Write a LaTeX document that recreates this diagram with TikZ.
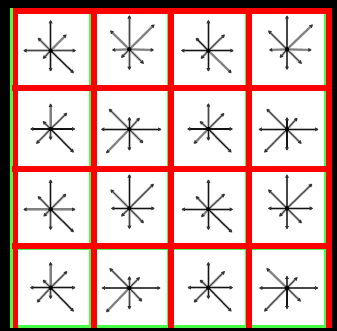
\documentclass[tikz,border=0pt]{standalone}
\usetikzlibrary{arrows.meta}
\definecolor{gridred}{RGB}{255,0,0}
\definecolor{gridgreen}{RGB}{70,255,70}
\tikzset{
  raycore/.style={line width=1.05pt,-{Triangle[length=3.4pt,width=3.6pt,black!80]},shorten >=-0.8pt},
  rayd/.style={raycore,draw=black!92},
  raym/.style={raycore,draw=black!72},
  rayl/.style={raycore,draw=black!50,line width=1.7pt},
  halo/.style={draw=black!28,line width=2.5pt},
  hub/.style={fill=black,circle,inner sep=0pt,minimum size=4.6pt},
  redbar/.style={fill=gridred,draw=none},
  greenbar/.style={fill=gridgreen,draw=none}
}
% #1,#2 offset; #3 centre; #4 list x/y/shade
\newcommand{\starburst}[4]{%
  \begin{scope}[shift={(#1,#2)},x=0.3333pt,y=-0.3333pt]
    \coordinate (hubc) at (#3);
    \foreach \ex/\ey/\sh in {#4}{\draw[halo] (hubc) -- (\ex,\ey);}
    \foreach \ex/\ey/\sh in {#4}{\draw[ray\sh] (hubc) -- (\ex,\ey);}
    \node[hub] at (hubc) {};
  \end{scope}}
\begin{document}
\begin{tikzpicture}[x=1pt,y=-1pt]
\useasboundingbox (0,0) rectangle (337,331);
\fill[black] (0,0) rectangle (337,331);
% cells
\fill[white] (12,8) rectangle (326,328);
% green edges
\fill[greenbar] (10,8) rectangle (12.8,328);
\fill[greenbar] (88.5,8) rectangle (91.5,328);
\fill[greenbar] (166.8,8) rectangle (168.5,328);
\fill[greenbar] (245,8) rectangle (246.5,328);
\fill[greenbar] (324.4,8) rectangle (326.5,328);
\fill[greenbar] (10,324.8) rectangle (326.5,328);
\fill[greenbar] (10,248) rectangle (326.5,249.6);
\fill[greenbar] (10,171) rectangle (326.5,172);
% red bars
\fill[redbar] (12.7,8) rectangle (331.7,14);
\fill[redbar] (12,85) rectangle (331.7,91);
\fill[redbar] (12,166) rectangle (331.7,171.6);
\fill[redbar] (12,243) rectangle (331.7,248.6);
\fill[redbar] (12.7,8) rectangle (18,328);
\fill[redbar] (91.3,8) rectangle (96.6,328);
\fill[redbar] (168.2,8) rectangle (173.6,328);
\fill[redbar] (246.3,8) rectangle (252,328);
\fill[redbar] (326,8) rectangle (331.7,328);
% row 1
\starburst{0}{0}{152,152}{152/62/d,152/212/d,72/152/m,226/152/m,198/105/l,115/115/m,130/175/m,220/218/d}
\starburst{0}{0}{388,148}{388/48/m,388/208/m,338/150/l,460/150/l,462/75/l,332/93/l,365/172/m,430/190/m}
\starburst{167}{0}{124,152}{124/62/d,124/212/d,44/152/d,198/152/d,172/105/m,88/115/d,103/175/m,192/218/l}
\starburst{167}{0}{360,148}{360/48/m,360/208/m,308/150/l,432/150/l,436/75/l,305/93/m,340/172/m,403/190/m}
% row 2
\starburst{0}{0}{152,387}{152/313/l,152/418/m,92/387/d,224/387/d,200/340/m,130/365/m,110/430/m,220/456/d}
\starburst{0}{0}{388,388}{388/353/d,388/450/d,305/388/d,482/388/d,418/355/m,328/328/m,320/458/l,428/428/m}
\starburst{167}{0}{124,387}{124/312/m,124/420/d,62/387/d,196/387/d,170/341/m,100/365/m,82/430/l,192/456/d}
\starburst{167}{0}{360,388}{360/353/d,360/450/d,277/388/d,452/388/d,390/355/m,300/328/m,293/456/m,402/430/m}
% row 3
\starburst{0}{161}{152,145}{152/58/d,152/205/m,72/145/l,224/145/l,197/100/m,115/107/m,132/165/m,220/212/d}
\starburst{0}{161}{388,142}{388/42/d,388/202/m,335/142/d,462/142/d,460/70/m,333/87/m,365/165/m,430/185/m}
\starburst{167}{161}{124,145}{124/58/d,124/205/d,46/145/d,196/145/d,172/100/m,88/107/m,104/167/l,194/213/d}
\starburst{167}{161}{360,142}{360/42/m,360/203/m,305/142/d,436/142/d,434/70/m,305/87/m,338/165/m,403/185/m}
% row 4
\starburst{0}{161}{152,380}{152/305/l,152/412/m,92/380/d,224/380/d,200/332/m,130/358/m,112/423/m,220/450/d}
\starburst{0}{161}{388,381}{388/348/m,388/443/m,307/381/m,480/381/m,418/350/m,330/323/m,320/452/l,425/420/m}
\starburst{167}{161}{124,380}{124/305/d,124/412/d,64/380/d,196/380/d,172/332/m,100/358/m,82/423/m,192/450/d}
\starburst{167}{161}{360,381}{360/346/m,360/443/d,278/381/m,452/381/m,390/350/m,300/323/l,293/450/m,400/420/m}
\end{tikzpicture}
\end{document}
